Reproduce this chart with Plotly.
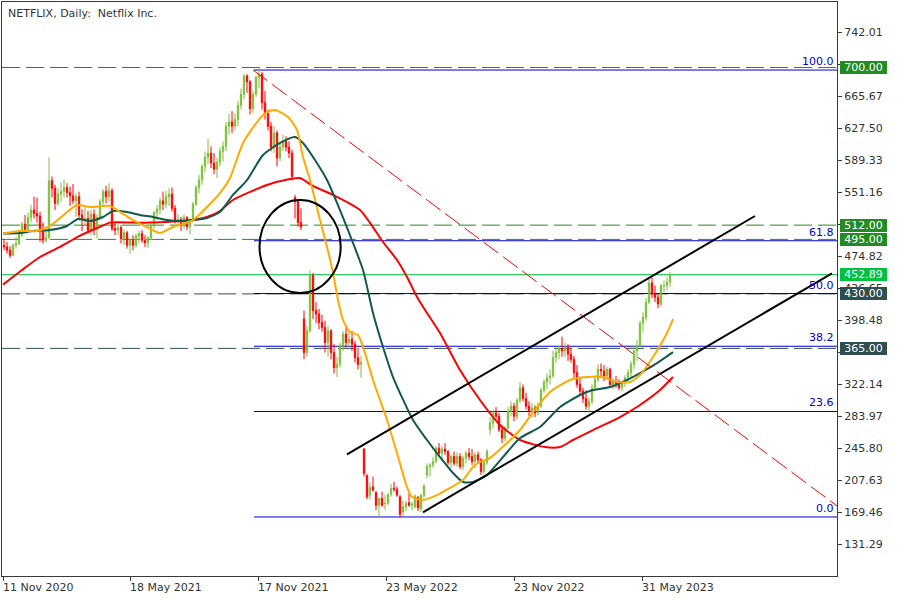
import plotly.graph_objects as go

TITLE = "NETFLIX, Daily:  Netflix Inc."

# x axis: bar index (one bar per trading day); labelled bars
TICK_BARS = [0, 127, 255, 383, 511, 639]
TICK_DATES = ["11 Nov 2020", "18 May 2021", "17 Nov 2021", "23 May 2022", "23 Nov 2022", "31 May 2023"]
BARS_PER_CANDLE = 3

# price axis ticks
Y_TICKS = [131.29, 169.46, 207.63, 245.80, 283.97, 322.14, 360.31, 398.48, 436.65,
           474.82, 512.99, 551.16, 589.33, 627.50, 665.67, 703.84, 742.01]
# tick labels hidden behind the price boxes
Y_TICKS_COVERED = [360.31, 512.99, 703.84]

# candles (each candle = 3 trading days)
OPEN = [488,486,482,476,488,490,501,513,507,521,
        530,526,523,508,494,497,565,556,538,549,
        552,557,551,547,541,546,524,519,520,506,
        525,508,521,540,552,546,553,508,506,509,
        496,503,488,494,488,499,502,494,491,497,
        512,527,531,541,537,546,549,532,518,519,
        512,521,510,518,537,557,566,582,593,598,
        586,579,587,600,606,630,635,630,638,655,
        668,690,683,651,668,688,692,658,645,630,
        605,622,592,605,612,605,598,545,540,515,
        400,360,386,452,410,406,396,390,372,386,
        360,342,346,368,382,372,376,370,354,346,
        245,213,190,200,193,178,186,180,180,191,
        198,197,188,170,176,181,178,176,187,174,
        190,214,224,226,230,246,240,245,242,229,
        236,228,236,224,234,240,236,230,238,232,
        218,229,268,276,288,284,268,258,270,290,
        296,284,303,318,305,296,290,294,288,296,
        315,325,330,332,354,360,365,362,366,358,
        352,336,322,314,305,296,302,318,328,340,
        338,332,340,322,325,322,318,324,330,336,
        346,362,368,395,402,420,443,430,426,418,
        440,440,444]
HIGH = [495,492,487,490,498,505,516,524,527,536,
        546,545,528,515,506,593,570,560,556,563,
        566,562,558,561,550,552,531,535,529,530,
        531,525,543,555,559,562,556,515,514,512,
        507,505,496,500,502,505,506,500,499,515,
        529,536,545,552,553,556,557,536,525,522,
        525,523,520,540,560,572,585,600,615,606,
        598,592,605,612,635,645,648,645,660,675,
        692,692,685,672,690,701,695,672,650,635,
        630,625,610,620,618,612,602,548,543,532,
        410,392,458,455,420,412,405,398,392,388,
        370,355,372,386,390,384,386,374,366,356,
        246,215,205,212,195,187,194,190,192,203,
        206,200,190,183,183,192,182,191,189,191,
        203,228,228,235,248,252,249,252,244,238,
        242,241,240,237,243,246,245,241,242,234,
        232,245,283,292,295,288,272,272,295,302,
        300,306,325,322,312,302,300,297,300,318,
        328,335,340,362,366,368,379,372,370,366,
        356,345,330,318,315,306,322,332,346,347,
        345,343,342,330,332,328,326,333,340,350,
        368,375,398,408,425,448,449,440,430,442,
        446,450,456]
LOW = [482,478,473,475,484,488,498,503,505,515,
       520,515,492,490,491,495,545,530,535,540,
       545,545,535,537,522,518,505,512,502,500,
       500,496,520,535,538,540,505,500,500,490,
       488,484,478,482,485,490,491,486,485,494,
       508,518,525,530,532,535,528,514,510,505,
       507,506,501,515,535,550,560,575,585,580,
       573,568,582,588,600,620,622,625,630,650,
       662,670,644,646,665,675,650,638,625,600,
       598,582,588,600,600,592,565,520,510,506,
       352,355,384,400,395,388,385,360,355,352,
       335,331,342,362,366,366,362,348,340,330,
       212,185,185,194,172,163,176,172,178,188,
       194,188,163,165,171,176,172,174,171,170,
       186,210,212,222,228,236,230,238,226,222,
       225,224,221,220,228,232,226,222,228,214,
       215,226,262,270,280,265,252,254,268,284,
       278,280,300,302,292,284,282,283,285,294,
       312,316,322,330,348,352,355,355,350,348,
       330,318,310,300,292,288,298,315,325,330,
       326,328,318,316,318,315,314,319,326,331,
       340,350,366,385,398,418,425,420,413,415,
       432,434,438]
CLOSE = [486,482,476,488,490,501,513,507,521,530,
         526,523,508,494,497,565,556,538,549,552,
         557,551,547,541,546,524,519,520,506,525,
         508,521,540,552,546,553,508,506,509,496,
         503,488,494,488,499,502,494,491,497,512,
         527,531,541,537,546,549,532,518,519,512,
         521,510,518,537,557,566,582,593,598,586,
         579,587,600,606,630,635,630,638,655,668,
         690,683,651,668,688,692,658,645,630,605,
         622,592,605,612,605,598,570,540,515,510,
         360,386,452,410,406,396,390,372,386,360,
         342,346,368,382,372,376,370,354,346,348,
         216,188,199,196,178,186,178,180,191,198,
         197,190,167,176,180,178,179,189,175,190,
         201,224,226,230,246,240,245,242,229,236,
         228,236,224,234,240,236,230,238,232,218,
         229,242,276,288,284,268,258,270,290,296,
         284,303,318,305,296,290,294,288,296,315,
         325,330,332,354,360,365,362,366,358,352,
         336,322,314,305,296,302,318,328,340,338,
         332,340,322,325,322,318,324,330,336,346,
         362,368,395,402,420,443,430,426,418,440,
         440,444,453]

# moving averages (bar index, value)
MA_FAST_BAR = [0,17,34,47,57,74,87,107,117,130,144,157,170,190,204,217,227,240,254,264,
               272,285,294,300,307,317,324,330,335,340,347,355,362,370,384,394,404,409,419,434,
               447,460,470,477,487,517,530,547,567,584,600,614,627,637,650,664,670]
MA_FAST = [502,505,505,511,520.5,536,533.6,534.8,527.7,518,509.8,502.7,509.8,518,533.6,550.3,568.2,610,635,647,
           649.3,641,625.5,593.3,565.8,518.1,486,455,422.7,398.8,384.5,381,359.5,327.3,279.6,240,199.6,187.7,184,190,
           198.5,208,223.5,229.5,234.3,267.6,289,313,327.3,330.8,330.8,324.9,324.9,333.2,354.7,383.3,400]
MA_MID_BAR = [0,17,30,47,64,75,87,100,110,124,137,150,164,177,190,204,217,230,244,260,
              277,292,300,312,324,337,350,360,370,380,390,410,424,437,450,460,470,484,517,537,
              557,577,590,607,624,637,654,670]
MA_MID = [502,502.6,505,506.2,511,519.3,517,521.7,528.9,527.7,524.1,521.7,518.1,517,518.1,520.5,527.7,548,565.8,595.6,
          610,617.1,610,589.7,565.8,530,490.7,458.5,407.2,366.6,330.8,279.6,255.7,235.4,216.3,205.6,205.6,214,258,271.2,
          295,309.4,315.3,318.9,327.3,335.6,347.5,360.6]
MA_SLOW_BAR = [0,19,37,57,77,97,107,130,147,170,190,204,217,230,264,287,297,310,330,357,
               367,380,394,404,414,424,437,457,477,497,517,542,557,570,590,617,637,657,670]
MA_SLOW = [441,458.5,474,486,499.5,510,515,515,515,516.3,518.1,521.7,528.9,542,559.9,567,568.2,558.7,548,530,
           514.6,491.9,470.4,450.1,426.3,407.2,383.3,339.2,303.4,273.6,255.7,247.3,247.3,255.7,267.6,283.1,297.5,315.3,330.8]

# horizontal levels
LEVELS_GREEN = [700.00, 512.00, 495.00]
LEVELS_SLATE = [430.00, 365.00]
LAST_PRICE = 452.89

# fibonacci retracement
FIB_HIGH = 697.0
FIB_LOW = 163.9
FIB_RATIOS = [0.0, 23.6, 38.2, 50.0, 61.8, 100.0]
FIB_START_BAR = 251

# drawn objects (anchor bar, anchor price)
TREND_BARS = [250, 834]
TREND_PRICES = [697.0, 177.0]
CH_UP_BARS = [344, 752]
CH_UP_PRICES = [238.6, 522.9]
CH_LO_BARS = [420, 829]
CH_LO_PRICES = [169.5, 454.5]
ELLIPSE_BARS = [256.5, 337.7]
ELLIPSE_PRICES = [431.0, 542.0]

X_RANGE = [-1, 834]
Y_RANGE = [93.48, 778.16]

UP = "#7DBF3A"
DOWN = "#FF0000"
GREEN_LVL = "#228B22"
SLATE = "#2F4F4F"
BID = "#00C040"
FIB = "#0000CC"
AXIS = "#3a3a3a"
FONT = "DejaVu Sans"

xs = [BARS_PER_CANDLE * i + 1 for i in range(len(CLOSE))]

fig = go.Figure()
fig.add_trace(go.Candlestick(
    x=xs, open=OPEN, high=HIGH, low=LOW, close=CLOSE,
    increasing=dict(line=dict(color=UP, width=1), fillcolor=UP),
    decreasing=dict(line=dict(color=DOWN, width=1), fillcolor=DOWN),
    whiskerwidth=0, hoverinfo="skip"))

for bx, vals, col in [(MA_SLOW_BAR, MA_SLOW, "#FF0000"),
                      (MA_MID_BAR, MA_MID, "#135A4E"),
                      (MA_FAST_BAR, MA_FAST, "#FFAA00")]:
    fig.add_trace(go.Scatter(x=bx, y=vals, mode="lines",
                             line=dict(color=col, width=2, shape="spline", smoothing=0.6),
                             hoverinfo="skip"))

shapes = []
dash = "18px,6px"
for lv in LEVELS_GREEN:
    shapes.append(dict(type="line", xref="paper", x0=0, x1=1, yref="y", y0=lv, y1=lv,
                       line=dict(color=GREEN_LVL, width=1, dash=dash), layer="below"))
for lv in LEVELS_SLATE:
    shapes.append(dict(type="line", xref="paper", x0=0, x1=1, yref="y", y0=lv, y1=lv,
                       line=dict(color=SLATE, width=1, dash=dash), layer="below"))
shapes.append(dict(type="line", xref="paper", x0=0, x1=1, yref="y", y0=LAST_PRICE, y1=LAST_PRICE,
                   line=dict(color=BID, width=1), layer="below"))

fib_levels = [FIB_LOW + r / 100.0 * (FIB_HIGH - FIB_LOW) for r in FIB_RATIOS]
for lv in fib_levels:
    shapes.append(dict(type="line", xref="x", x0=FIB_START_BAR, x1=X_RANGE[1], yref="y", y0=lv, y1=lv,
                       line=dict(color=FIB, width=1), layer="below"))

shapes.append(dict(type="line", xref="x", yref="y", x0=TREND_BARS[0], x1=TREND_BARS[1],
                   y0=TREND_PRICES[0], y1=TREND_PRICES[1], line=dict(color="#FF0000", width=1, dash=dash)))
shapes.append(dict(type="line", xref="x", yref="y", x0=CH_UP_BARS[0], x1=CH_UP_BARS[1],
                   y0=CH_UP_PRICES[0], y1=CH_UP_PRICES[1], line=dict(color="#000000", width=2)))
shapes.append(dict(type="line", xref="x", yref="y", x0=CH_LO_BARS[0], x1=CH_LO_BARS[1],
                   y0=CH_LO_PRICES[0], y1=CH_LO_PRICES[1], line=dict(color="#000000", width=2)))
shapes.append(dict(type="circle", xref="x", yref="y", x0=ELLIPSE_BARS[0], x1=ELLIPSE_BARS[1],
                   y0=ELLIPSE_PRICES[0], y1=ELLIPSE_PRICES[1], line=dict(color="#000000", width=2)))

ann = []
ann.append(dict(text=TITLE, x=0, y=1, xref="paper", yref="paper", xanchor="left", yanchor="top",
                xshift=4, yshift=-3, showarrow=False, font=dict(family=FONT, size=11, color="#333333")))
for b, d in zip(TICK_BARS, TICK_DATES):
    ann.append(dict(text=d, x=b, y=0, xref="x", yref="paper", xanchor="left", yanchor="top",
                    xshift=-2, yshift=-3, showarrow=False, font=dict(family=FONT, size=11, color="#333333")))
for r, lv in zip(FIB_RATIOS, fib_levels):
    ann.append(dict(text=f"{r:.1f}", x=1, y=lv, xref="paper", yref="y", xanchor="right", yanchor="bottom",
                    xshift=-1, yshift=0, showarrow=False, font=dict(family=FONT, size=11, color=FIB)))
for lv, col in [(LEVELS_GREEN[0], GREEN_LVL), (LEVELS_GREEN[1], GREEN_LVL), (LEVELS_GREEN[2], GREEN_LVL),
                (LAST_PRICE, BID), (LEVELS_SLATE[0], SLATE), (LEVELS_SLATE[1], SLATE)]:
    ann.append(dict(text=f"{lv:.2f}", x=1, y=lv, xref="paper", yref="y", xanchor="left", yanchor="middle",
                    xshift=3, showarrow=False, bgcolor=col, width=45, height=11, borderpad=1, borderwidth=0,
                    font=dict(family=FONT, size=11, color="#FFFFFF")))

fig.update_layout(
    width=900, height=600,
    margin=dict(l=2, r=63, t=2, b=24),
    paper_bgcolor="white", plot_bgcolor="white",
    showlegend=False, boxgap=0.35,
    font=dict(family=FONT, size=11, color="#333333"),
    shapes=shapes, annotations=ann,
    xaxis=dict(range=X_RANGE, showgrid=False, zeroline=False, showline=True, mirror=True,
               linecolor=AXIS, linewidth=1, tickvals=TICK_BARS, ticks="outside", ticklen=4,
               tickcolor=AXIS, showticklabels=False, rangeslider=dict(visible=False), fixedrange=True),
    yaxis=dict(range=Y_RANGE, side="right", showgrid=False, zeroline=False, showline=True, mirror=True,
               linecolor=AXIS, linewidth=1, tickvals=Y_TICKS,
               ticktext=["" if v in Y_TICKS_COVERED else f"{v:.2f}" for v in Y_TICKS],
               ticks="outside", ticklen=4, tickcolor=AXIS,
               tickfont=dict(family=FONT, size=11, color="#333333"), fixedrange=True),
)

fig.write_html("out.html", config={"displayModeBar": False},
               post_script="document.body.style.margin='0';document.body.style.overflow='hidden';")
